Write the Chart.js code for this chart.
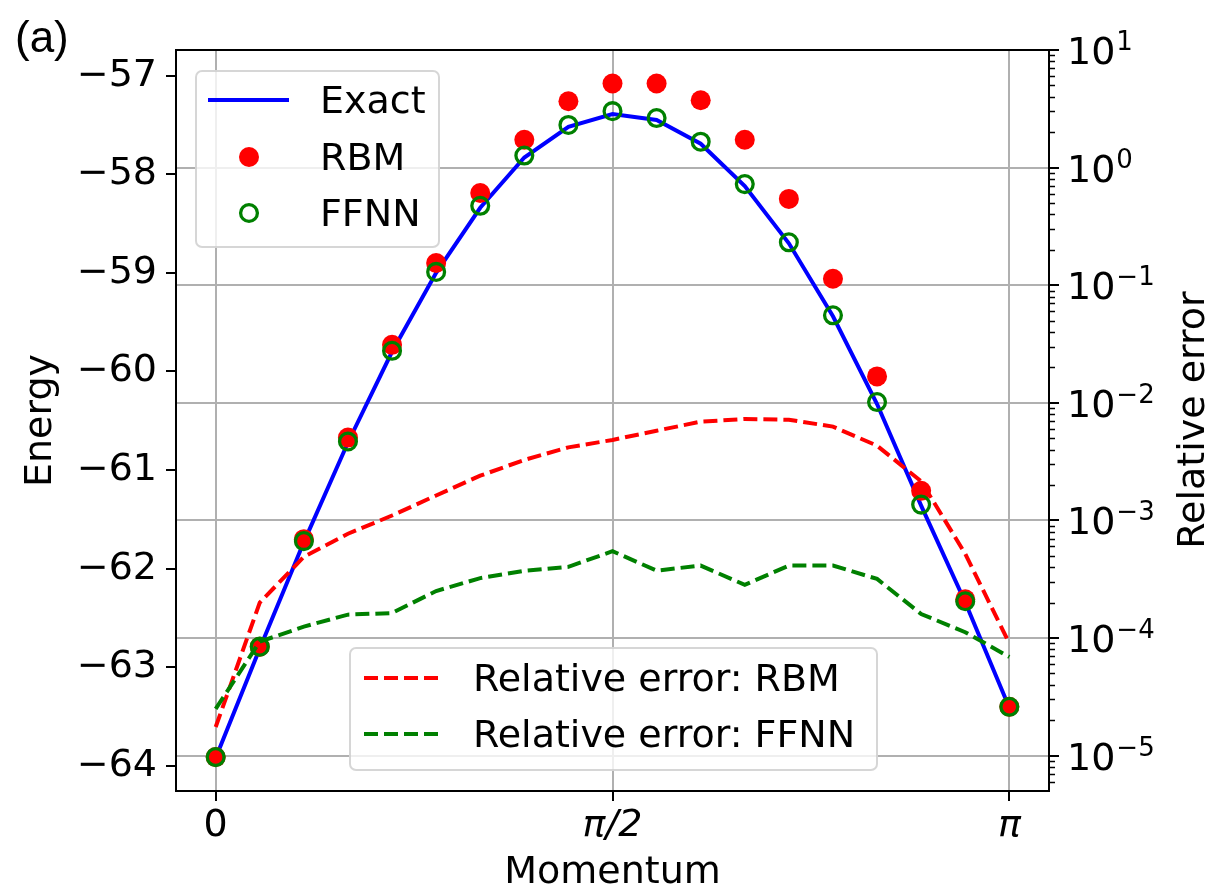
<!DOCTYPE html>
<html>
<head>
<meta charset="utf-8">
<script src="https://cdn.jsdelivr.net/npm/chart.js@4.4.1/dist/chart.umd.min.js"></script>
<style>
  html, body { margin: 0; padding: 0; background: #fff; }
  #wrap { position: relative; width: 1207px; height: 890px; font-family: 'DejaVu Sans', sans-serif; }
  #chart { position: absolute; left: 0; top: 0; }
  .panel { position: absolute; left: 15px; top: 15px; font-family: 'Liberation Sans', Arial, sans-serif; font-size: 44px; line-height: 44px; }
  .legend { position: absolute; box-sizing: border-box; background: rgba(255,255,255,0.8); border: 2px solid rgba(204,204,204,0.8); border-radius: 7px; }
  .lg-text { position: absolute; font-size: 38px; line-height: 44px; white-space: nowrap; color: #000; }
  .lg-sym { position: absolute; overflow: visible; }
  .ytitle2 { position: absolute; left: 991px; top: 398px; width: 400px; font-size: 38px; line-height: 44px;
             text-align: center; white-space: nowrap; transform: rotate(-90deg); transform-origin: 200px 22px; }
</style>
</head>
<body>
<div id="wrap">
  <canvas id="chart" width="1207" height="890"></canvas>
  <div class="panel">(a)</div>
  <div class="ytitle2">Relative error</div>

  <!-- legend of the energy axis -->
  <div class="legend" style="left:195px; top:70px; width:245px; height:178px;"></div>
  <svg class="lg-sym" style="left:208px; top:90px;" width="81" height="20"><line x1="0" y1="10" x2="81" y2="10" stroke="#0000ff" stroke-width="4"/></svg>
  <div class="lg-text" style="left:320px; top:78px;">Exact</div>
  <svg class="lg-sym" style="left:237px; top:145px;" width="24" height="24"><circle cx="12" cy="12" r="10" fill="#ff0000"/></svg>
  <div class="lg-text" style="left:320px; top:135px;">RBM</div>
  <svg class="lg-sym" style="left:237px; top:201px;" width="24" height="24"><circle cx="12" cy="12" r="8.4" fill="none" stroke="#008000" stroke-width="3.3"/></svg>
  <div class="lg-text" style="left:320px; top:191px;">FFNN</div>

  <!-- legend of the relative error axis -->
  <div class="legend" style="left:349px; top:647px; width:529px; height:124px;"></div>
  <svg class="lg-sym" style="left:364px; top:668px;" width="78" height="20"><line x1="0" y1="10" x2="78" y2="10" stroke="#ff0000" stroke-width="4" stroke-dasharray="14 6"/></svg>
  <div class="lg-text" style="left:473px; top:656px;">Relative error: RBM</div>
  <svg class="lg-sym" style="left:364px; top:724px;" width="78" height="20"><line x1="0" y1="10" x2="78" y2="10" stroke="#008000" stroke-width="4" stroke-dasharray="14 6"/></svg>
  <div class="lg-text" style="left:473px; top:712px;">Relative error: FFNN</div>
</div>

<script>
// momentum points (0 .. pi in 18 steps)
const momentum = [0, 0.1745, 0.3491, 0.5236, 0.6981, 0.8727, 1.0472, 1.2217, 1.3963, 1.5708,
                  1.7453, 1.9199, 2.0944, 2.2689, 2.4435, 2.6180, 2.7925, 2.9671, 3.1416];

const exactEnergy = [-63.92, -62.81, -61.73, -60.72, -59.80, -59.00, -58.34, -57.83, -57.52, -57.39,
                     -57.45, -57.69, -58.12, -58.70, -59.44, -60.33, -61.36, -62.34, -63.41];
const rbmEnergy   = [-63.91, -62.79, -61.70, -60.67, -59.73, -58.90, -58.19, -57.65, -57.26, -57.08,
                     -57.08, -57.25, -57.65, -58.25, -59.06, -60.05, -61.21, -62.31, -63.40];
const ffnnEnergy  = [-63.91, -62.79, -61.72, -60.71, -59.79, -58.99, -58.32, -57.81, -57.50, -57.36,
                     -57.43, -57.67, -58.10, -58.69, -59.43, -60.31, -61.35, -62.33, -63.40];

const rbmRelErr  = [1.75e-5, 2.0e-4, 4.9e-4, 7.7e-4, 1.10e-3, 1.63e-3, 2.40e-3, 3.27e-3, 4.18e-3, 4.83e-3,
                    5.79e-3, 6.91e-3, 7.28e-3, 7.18e-3, 6.27e-3, 4.32e-3, 2.15e-3, 5.2e-4, 9.0e-5];
const ffnnRelErr = [2.5e-5, 9.3e-5, 1.25e-4, 1.58e-4, 1.63e-4, 2.51e-4, 3.23e-4, 3.72e-4, 4.03e-4, 5.47e-4,
                    3.74e-4, 4.13e-4, 2.83e-4, 4.13e-4, 4.13e-4, 3.18e-4, 1.6e-4, 1.12e-4, 6.9e-5];

const xTicks = [0, Math.PI / 2, Math.PI];
const xTickLabels = ['0', 'π/2', 'π'];
const energyTicks = [-64, -63, -62, -61, -60, -59, -58, -57];
const errTicks = [1e-5, 1e-4, 1e-3, 1e-2, 1e-1, 1e0, 1e1];

const FONT = "'DejaVu Sans', sans-serif";
const FS = 38;

function pts(ys) { return momentum.map((x, i) => ({ x: x, y: ys[i] })); }

// black frame, small log ticks and 10^n labels on the right axis
const framePlugin = {
  id: 'frame',
  afterDraw(chart) {
    const { ctx, chartArea: a } = chart;
    const s = chart.scales.y2;
    ctx.save();
    ctx.strokeStyle = '#000';
    ctx.lineWidth = 1.5;
    for (let e = -6; e <= 0; e++) {
      for (let m = 2; m <= 9; m++) {
        const v = m * Math.pow(10, e);
        if (v < s.min || v > s.max) continue;
        const py = Math.round(s.getPixelForValue(v)) + 0.5;
        ctx.beginPath();
        ctx.moveTo(a.right, py);
        ctx.lineTo(a.right + 6, py);
        ctx.stroke();
      }
    }
    ctx.lineWidth = 2;
    ctx.strokeRect(a.left, a.top, a.right - a.left, a.bottom - a.top);

    // tick labels of the log axis, with a raised exponent
    ctx.fillStyle = '#000';
    ctx.textBaseline = 'alphabetic';
    ctx.textAlign = 'left';
    errTicks.forEach(v => {
      const py = s.getPixelForValue(v);
      const x0 = a.right + 18;
      ctx.font = FS + "px " + FONT;
      ctx.fillText('10', x0, py + 14);
      const w = ctx.measureText('10').width;
      const ex = Math.round(Math.log10(v));
      ctx.font = "26px " + FONT;
      ctx.fillText((ex < 0 ? '\u2212' : '') + Math.abs(ex), x0 + w + 1, py);
    });
    ctx.restore();
  }
};

new Chart(document.getElementById('chart').getContext('2d'), {
  type: 'line',
  data: {
    datasets: [
      { label: 'Exact', data: pts(exactEnergy), yAxisID: 'y', borderColor: '#0000ff', borderWidth: 4,
        pointRadius: 0, fill: false, tension: 0, order: 5 },
      { label: 'RBM', data: pts(rbmEnergy), yAxisID: 'y', showLine: false, pointRadius: 10,
        pointBackgroundColor: '#ff0000', pointBorderWidth: 0, borderColor: '#ff0000', order: 4 },
      { label: 'FFNN', data: pts(ffnnEnergy), yAxisID: 'y', showLine: false, pointRadius: 8.4,
        pointBackgroundColor: 'rgba(0,0,0,0)', pointBorderColor: '#008000', pointBorderWidth: 3.3, order: 3 },
      { label: 'Relative error: RBM', data: pts(rbmRelErr), yAxisID: 'y2', borderColor: '#ff0000',
        borderWidth: 4, borderDash: [14, 6], pointRadius: 0, tension: 0, order: 2 },
      { label: 'Relative error: FFNN', data: pts(ffnnRelErr), yAxisID: 'y2', borderColor: '#008000',
        borderWidth: 4, borderDash: [14, 6], pointRadius: 0, tension: 0, order: 1 }
    ]
  },
  options: {
    responsive: false,
    animation: false,
    devicePixelRatio: 1,
    layout: { padding: { top: 50, left: 0, right: 0, bottom: 0 } },
    plugins: { legend: { display: false }, tooltip: { enabled: false } },
    scales: {
      x: {
        type: 'linear', position: 'bottom', bounds: 'data',
        min: -0.05 * Math.PI, max: 1.05 * Math.PI,
        afterBuildTicks: s => { s.ticks = xTicks.map(v => ({ value: v })); },
        afterFit: s => { s.height = 99; },
        border: { display: false },
        grid: { color: '#b0b0b0', lineWidth: 2, tickColor: '#000', tickWidth: 2, tickLength: 10 },
        ticks: {
          padding: 2, color: '#000', maxRotation: 0, autoSkip: false,
          font: ctx => ({ family: FONT, size: FS, style: ctx.index > 0 ? 'italic' : 'normal' }),
          callback: (v, i) => xTickLabels[i]
        },
        title: { display: true, text: 'Momentum', color: '#000', font: { family: FONT, size: FS, lineHeight: 0.9 },
                 padding: { top: 0, bottom: 0 } }
      },
      y: {
        type: 'linear', position: 'left', bounds: 'data',
        min: -64.254, max: -56.74,
        afterBuildTicks: s => { s.ticks = energyTicks.map(v => ({ value: v })); },
        afterFit: s => { s.width = 176; },
        border: { display: false },
        grid: { drawOnChartArea: false, tickColor: '#000', tickWidth: 2, lineWidth: 2, tickLength: 10 },
        ticks: { padding: 9, color: '#000', font: { family: FONT, size: FS },
                 callback: v => '\u2212' + Math.abs(v) },
        title: { display: true, text: 'Energy', color: '#000', font: { family: FONT, size: FS, lineHeight: 1.2 },
                 padding: { top: 18, bottom: 0 } }
      },
      y2: {
        type: 'logarithmic', position: 'right',
        min: 5e-6, max: 10,
        afterBuildTicks: s => { s.ticks = errTicks.map(v => ({ value: v })); },
        afterFit: s => { s.width = 158; },
        border: { display: false },
        grid: { color: '#b0b0b0', lineWidth: 2, tickColor: '#000', tickWidth: 2, tickLength: 10 },
        ticks: { display: true, autoSkip: false, color: 'rgba(0,0,0,0)', font: { family: FONT, size: FS },
                 callback: () => '' },
        title: { display: false }
      }
    }
  },
  plugins: [framePlugin]
});
</script>
</body>
</html>
